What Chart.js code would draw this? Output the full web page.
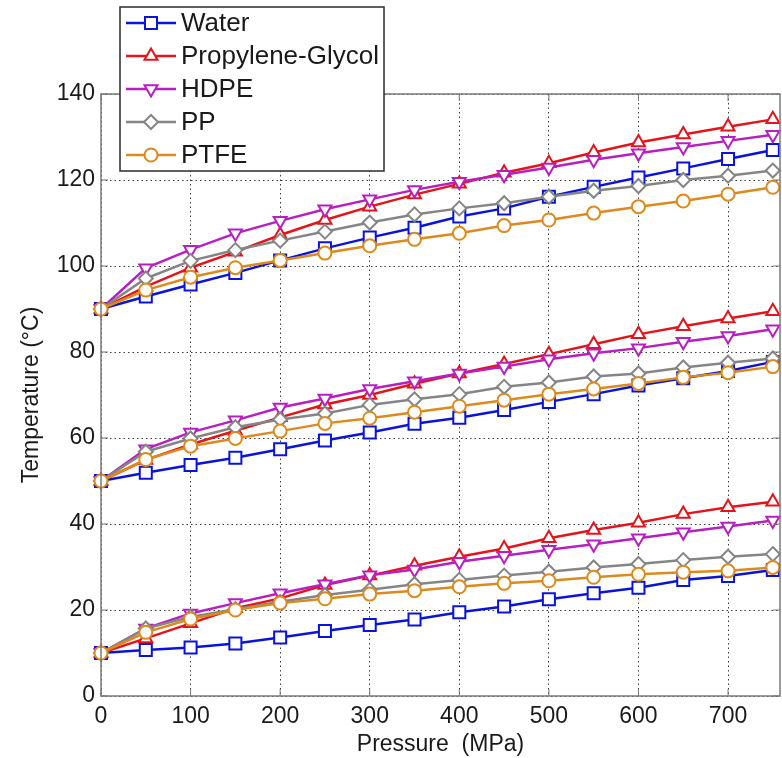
<!DOCTYPE html>
<html>
<head>
<meta charset="utf-8">
<script src="https://cdn.jsdelivr.net/npm/chart.js@4.4.1/dist/chart.umd.min.js"></script>
<style>
    html, body { margin: 0; padding: 0; background: #fff; }
    #wrap { width: 782px; height: 758px; position: relative; }
</style>
</head>
<body>
<div id="wrap"><canvas id="chart-pressure-temp"></canvas></div>
<script>
// pressure steps (MPa)
const pressure = [0, 50, 100, 150, 200, 250, 300, 350, 400, 450, 500, 550, 600, 650, 700, 750];
const pressureTicks = [0, 100, 200, 300, 400, 500, 600, 700];

// temperature (°C) for each starting temperature: 10, 50, 90
const water = [
    [10, 10.7, 11.3, 12.2, 13.6, 15.1, 16.5, 17.8, 19.5, 20.8, 22.5, 23.9, 25.2, 27.0, 27.9, 29.3],
    [50, 51.9, 53.7, 55.4, 57.4, 59.4, 61.3, 63.3, 64.7, 66.5, 68.4, 70.2, 72.2, 73.9, 75.6, 77.7],
    [90, 92.9, 95.7, 98.4, 101.3, 104.1, 106.6, 108.9, 111.5, 113.4, 116.1, 118.4, 120.6, 122.7, 124.9, 127.0],
];
const propyleneGlycol = [
    [10, 13.4, 16.9, 20.4, 22.7, 25.8, 28.0, 30.3, 32.4, 34.3, 36.7, 38.6, 40.3, 42.3, 43.9, 45.2],
    [50, 54.9, 58.5, 61.7, 64.8, 67.8, 70.0, 72.6, 75.0, 77.2, 79.5, 81.8, 84.1, 86.0, 87.8, 89.5],
    [90, 95.2, 99.6, 103.3, 107.2, 110.7, 113.8, 116.6, 119.1, 121.7, 123.9, 126.4, 128.7, 130.6, 132.4, 134.1],
];
const hdpe = [
    [10, 15.7, 19.2, 21.6, 23.9, 26.0, 28.1, 29.4, 31.2, 32.6, 34.0, 35.3, 36.7, 38.1, 39.4, 40.8],
    [50, 57.4, 61.3, 64.1, 67.1, 69.2, 71.4, 73.2, 75.0, 76.6, 78.3, 79.7, 80.9, 82.4, 83.7, 85.3],
    [90, 99.5, 103.8, 107.6, 110.5, 113.2, 115.5, 117.7, 119.6, 121.2, 122.9, 124.7, 126.2, 127.7, 129.1, 130.5],
];
const pp = [
    [10, 15.7, 18.4, 20.2, 21.9, 23.5, 24.7, 26.0, 27.0, 28.0, 28.9, 29.9, 30.7, 31.6, 32.4, 33.0],
    [50, 56.8, 59.9, 62.5, 64.3, 65.7, 67.7, 69.0, 70.2, 71.9, 72.9, 74.3, 75.0, 76.4, 77.5, 78.5],
    [90, 97.1, 101.2, 103.7, 105.9, 108.0, 110.1, 112.0, 113.4, 114.6, 116.1, 117.5, 118.6, 120.0, 121.0, 122.2],
];
const ptfe = [
    [10, 14.8, 17.9, 20.0, 21.6, 22.6, 23.7, 24.5, 25.4, 26.2, 26.8, 27.6, 28.3, 28.8, 29.1, 29.9],
    [50, 55.0, 58.1, 59.9, 61.6, 63.4, 64.6, 66.0, 67.4, 68.8, 70.2, 71.4, 72.7, 74.1, 75.2, 76.6],
    [90, 94.4, 97.4, 99.6, 101.3, 103.0, 104.7, 106.2, 107.6, 109.4, 110.7, 112.3, 113.8, 115.1, 116.7, 118.3],
];

const materials = [
    { label: 'Water', values: water, color: '#0a14d8', style: 'rect', rotation: 0, radius: 8.5 },
    { label: 'Propylene-Glycol', values: propyleneGlycol, color: '#e3141c', style: 'triangle', rotation: 0, radius: 7.5 },
    { label: 'HDPE', values: hdpe, color: '#b81fc0', style: 'triangle', rotation: 180, radius: 7.5 },
    { label: 'PP', values: pp, color: '#858585', style: 'rectRot', rotation: 0, radius: 7 },
    { label: 'PTFE', values: ptfe, color: '#dc8a1e', style: 'circle', rotation: 0, radius: 6.5 },
];

const FONT = '"Liberation Sans", Arial, Helvetica, sans-serif';

// MATLAB-ish box with inward tick marks
const boxPlugin = {
    id: 'axesBox',
    afterDatasetsDraw(chart) {
        const { ctx, chartArea: a, scales } = chart;
        ctx.save();
        ctx.strokeStyle = '#7a7a7a';
        ctx.lineWidth = 1.5;
        ctx.strokeRect(a.left, a.top, a.right - a.left, a.bottom - a.top);
        ctx.lineWidth = 1;
        ctx.beginPath();
        scales.x.ticks.forEach(t => {
            const px = scales.x.getPixelForValue(t.value);
            ctx.moveTo(px, a.bottom); ctx.lineTo(px, a.bottom - 7);
            ctx.moveTo(px, a.top); ctx.lineTo(px, a.top + 7);
        });
        scales.y.ticks.forEach(t => {
            const py = scales.y.getPixelForValue(t.value);
            ctx.moveTo(a.left, py); ctx.lineTo(a.left + 7, py);
            ctx.moveTo(a.right, py); ctx.lineTo(a.right - 7, py);
        });
        ctx.stroke();
        ctx.restore();
    },
};

// legend box overlapping the top-left of the axes
const legendPlugin = {
    id: 'boxLegend',
    afterDraw(chart) {
        const { ctx } = chart;
        const x0 = 120, y0 = 7, w = 264, h = 164;
        ctx.save();
        ctx.fillStyle = '#fff';
        ctx.fillRect(x0, y0, w, h);
        ctx.strokeStyle = '#2a2a2a';
        ctx.lineWidth = 1.5;
        ctx.strokeRect(x0, y0, w, h);
        materials.forEach((m, i) => {
            const y = 23 + i * 33;
            ctx.strokeStyle = m.color;
            ctx.lineWidth = 2.5;
            ctx.beginPath();
            ctx.moveTo(126, y);
            ctx.lineTo(176, y);
            ctx.stroke();
            ctx.fillStyle = '#fff';
            ctx.strokeStyle = m.color;
            ctx.lineWidth = 2;
            Chart.helpers.drawPoint(ctx, {
                pointStyle: m.style, radius: m.radius, rotation: m.rotation, borderWidth: 2,
            }, 151, y);
            ctx.fillStyle = '#1a1a1a';
            ctx.font = '26px ' + FONT;
            ctx.textBaseline = 'middle';
            ctx.textAlign = 'left';
            ctx.fillText(m.label, 181, y + 1);
        });
        ctx.restore();
    },
};

function buildDatasets() {
    const sets = [];
    materials.forEach((m, mi) => {
        m.values.forEach(series => {
            sets.push({
                label: m.label,
                data: series.map((t, i) => ({ x: pressure[i], y: t })),
                borderColor: m.color,
                backgroundColor: '#fff',
                borderWidth: 2.5,
                pointStyle: m.style,
                rotation: m.rotation,
                pointRadius: m.radius,
                pointBorderWidth: 2,
                pointBackgroundColor: '#fff',
                pointBorderColor: m.color,
                tension: 0,
                clip: false,
                order: materials.length - mi,
            });
        });
    });
    return sets;
}

const canvas = document.getElementById('chart-pressure-temp');
const ctx = canvas.getContext('2d');

new Chart(ctx, {
    type: 'line',
    data: { datasets: buildDatasets() },
    plugins: [boxPlugin, legendPlugin],
    options: {
        responsive: true,
        maintainAspectRatio: false,
        animation: false,
        layout: { autoPadding: false, padding: { top: 94, right: 2, bottom: 0, left: 0 } },
        plugins: {
            legend: { display: false },
            tooltip: { enabled: false },
        },
        scales: {
            x: {
                type: 'linear',
                min: 0,
                max: 758,
                afterBuildTicks: s => { s.ticks = pressureTicks.map(v => ({ value: v })); },
                afterFit: s => {
                    s.height = 62;
                    s.paddingLeft = 0;
                    s.paddingRight = 0;
                },
                ticks: {
                    autoSkip: false, color: '#1a1a1a', padding: 7,
                    font: { family: FONT, size: 23 }, maxRotation: 0,
                },
                grid: { color: '#3a3a3a', lineWidth: 1, drawTicks: false },
                border: { display: false, dash: [1.5, 3] },
                title: {
                    display: true,
                    text: 'Pressure  (MPa)',
                    color: '#1a1a1a',
                    font: { family: FONT, size: 23 },
                    padding: { top: 0, bottom: 0 },
                },
            },
            y: {
                min: 0,
                max: 140,
                afterFit: s => {
                    s.width = 101;
                    s.paddingTop = 0;
                    s.paddingBottom = 0;
                },
                ticks: { stepSize: 20, color: '#1a1a1a', padding: 6, font: { family: FONT, size: 23 } },
                grid: { color: '#3a3a3a', lineWidth: 1, drawTicks: false },
                border: { display: false, dash: [1.5, 3] },
                title: {
                    display: true,
                    text: 'Temperature (°C)',
                    color: '#1a1a1a',
                    font: { family: FONT, size: 23 },
                    padding: { top: 18, bottom: 0 },
                },
            },
        },
    },
});
</script>
</body>
</html>
